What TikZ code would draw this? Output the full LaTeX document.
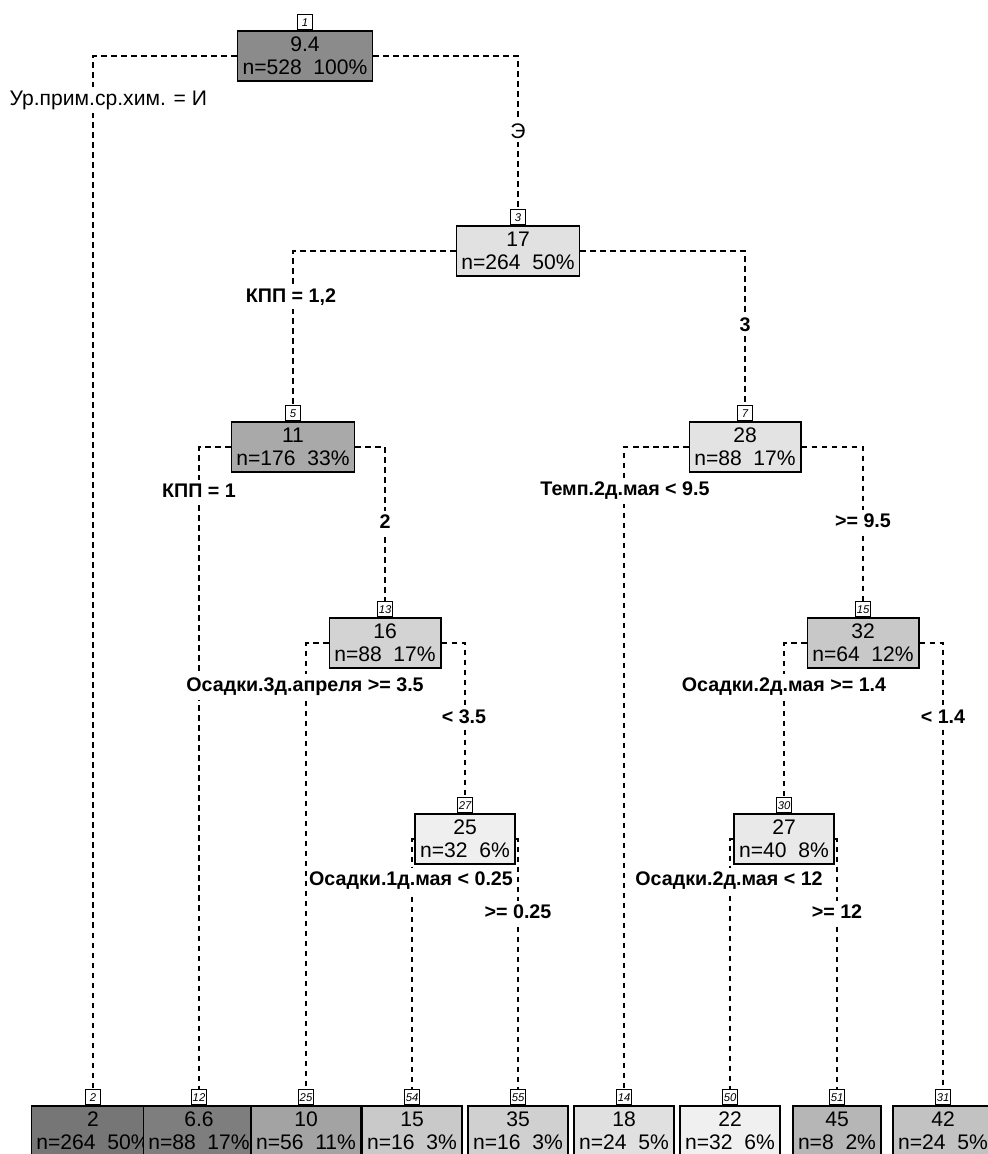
\documentclass[tikz,border=0pt]{standalone}
\usepackage{fontspec}
\setmainfont{Liberation Sans}
\usetikzlibrary{positioning,backgrounds}

\definecolor{c94}{gray}{0.545}
\definecolor{c17}{gray}{0.882}
\definecolor{c11}{gray}{0.663}
\definecolor{c28}{gray}{0.890}
\definecolor{c16}{gray}{0.827}
\definecolor{c32}{gray}{0.784}
\definecolor{c25}{gray}{0.937}
\definecolor{c27}{gray}{0.914}
\definecolor{c2}{gray}{0.463}
\definecolor{c66}{gray}{0.494}
\definecolor{c10}{gray}{0.639}
\definecolor{c15}{gray}{0.788}
\definecolor{c35}{gray}{0.816}
\definecolor{c18}{gray}{0.878}
\definecolor{c22}{gray}{0.941}
\definecolor{c45}{gray}{0.714}
\definecolor{c42}{gray}{0.761}

\tikzset{
  nodebox/.style={draw, line width=1.1pt, align=center, minimum height=1.25cm,
    inner xsep=0.125cm, inner ysep=0pt, font=\fontsize{15}{16.4}\selectfont},
  numtag/.style={draw, line width=0.9pt, fill=white, minimum width=0.38cm,
    minimum height=0.37cm, inner sep=0.5pt, font=\fontsize{8}{8}\itshape\selectfont},
  branchline/.style={line width=0.9pt, dash pattern=on 0.14cm off 0.11cm},
  lab/.style={fill=white, inner xsep=1pt, inner ysep=0.1cm, font=\fontsize{14}{14}\bfseries\selectfont},
  rootlab/.style={lab, font=\fontsize{15}{15}\selectfont},
}

\begin{document}
\begin{tikzpicture}[x=0.025cm, y=-0.025cm]
\useasboundingbox (0,0) rectangle (987,1154);

% inner nodes
\node[nodebox, fill=c94] (n1) at (305,56) {9.4\\n=528\ \ 100\%};
\node[numtag, above=0pt of n1] (t1) {1};
\node[nodebox, fill=c17] (n3) at (518,251) {17\\n=264\ \ 50\%};
\node[numtag, above=0pt of n3] (t3) {3};
\node[nodebox, fill=c11] (n5) at (293,447) {11\\n=176\ \ 33\%};
\node[numtag, above=0pt of n5] (t5) {5};
\node[nodebox, fill=c28] (n7) at (745,447) {28\\n=88\ \ 17\%};
\node[numtag, above=0pt of n7] (t7) {7};
\node[nodebox, fill=c16] (n13) at (385,643) {16\\n=88\ \ 17\%};
\node[numtag, above=0pt of n13] (t13) {13};
\node[nodebox, fill=c32] (n15) at (863,643) {32\\n=64\ \ 12\%};
\node[numtag, above=0pt of n15] (t15) {15};
\node[nodebox, fill=c25] (n27) at (465,839) {25\\n=32\ \ 6\%};
\node[numtag, above=0pt of n27] (t27) {27};
\node[nodebox, fill=c27] (n30) at (784,839) {27\\n=40\ \ 8\%};
\node[numtag, above=0pt of n30] (t30) {30};

% leaves
\node[nodebox, fill=c2] (l2) at (93,1131) {2\\n=264\ \ 50\%};
\node[numtag, above=0pt of l2] (t2) {2};
\node[nodebox, fill=c66] (l12) at (199,1131) {6.6\\n=88\ \ 17\%};
\node[numtag, above=0pt of l12] (t12) {12};
\node[nodebox, fill=c10] (l25) at (306,1131) {10\\n=56\ \ 11\%};
\node[numtag, above=0pt of l25] (t25) {25};
\node[nodebox, fill=c15] (l54) at (412,1131) {15\\n=16\ \ 3\%};
\node[numtag, above=0pt of l54] (t54) {54};
\node[nodebox, fill=c35] (l55) at (518,1131) {35\\n=16\ \ 3\%};
\node[numtag, above=0pt of l55] (t55) {55};
\node[nodebox, fill=c18] (l14) at (624,1131) {18\\n=24\ \ 5\%};
\node[numtag, above=0pt of l14] (t14) {14};
\node[nodebox, fill=c22] (l50) at (730,1131) {22\\n=32\ \ 6\%};
\node[numtag, above=0pt of l50] (t50) {50};
\node[nodebox, fill=c45] (l51) at (837,1131) {45\\n=8\ \ 2\%};
\node[numtag, above=0pt of l51] (t51) {51};
\node[nodebox, fill=c42] (l31) at (943,1131) {42\\n=24\ \ 5\%};
\node[numtag, above=0pt of l31] (t31) {31};

% branches
\begin{scope}[on background layer]
\draw[branchline] (n1) -| (t2);
\draw[branchline] (n1) -| (t3);
\draw[branchline] (n3) -| (t5);
\draw[branchline] (n3) -| (t7);
\draw[branchline] (n5) -| (t12);
\draw[branchline] (n5) -| (t13);
\draw[branchline] (n7) -| (t14);
\draw[branchline] (n7) -| (t15);
\draw[branchline] (n13) -| (t25);
\draw[branchline] (n13) -| (t27);
\draw[branchline] (n15) -| (t30);
\draw[branchline] (n15) -| (t31);
\draw[branchline] (n27) -| (t54);
\draw[branchline] (n27) -| (t55);
\draw[branchline] (n30) -| (t50);
\draw[branchline] (n30) -| (t51);
\end{scope}

% split labels
\node[rootlab, anchor=west] at (8,100) {Ур.прим.ср.хим. = И};
\node[rootlab] at (518,131) {Э};
\node[lab] at (291,297) {КПП = 1,2};
\node[lab] at (745,325) {3};
\node[lab] at (199,491) {КПП = 1};
\node[lab] at (385,522) {2};
\node[lab] at (625,491) {Темп.2д.мая < 9.5};
\node[lab] at (863,521) {>= 9.5};
\node[lab] at (305,687) {Осадки.3д.апреля >= 3.5};
\node[lab] at (464,717) {< 3.5};
\node[lab] at (784,687) {Осадки.2д.мая >= 1.4};
\node[lab] at (943,717) {< 1.4};
\node[lab] at (411,881) {Осадки.1д.мая < 0.25};
\node[lab] at (518,912) {>= 0.25};
\node[lab] at (729,881) {Осадки.2д.мая < 12};
\node[lab] at (837,912) {>= 12};
\end{tikzpicture}
\end{document}
